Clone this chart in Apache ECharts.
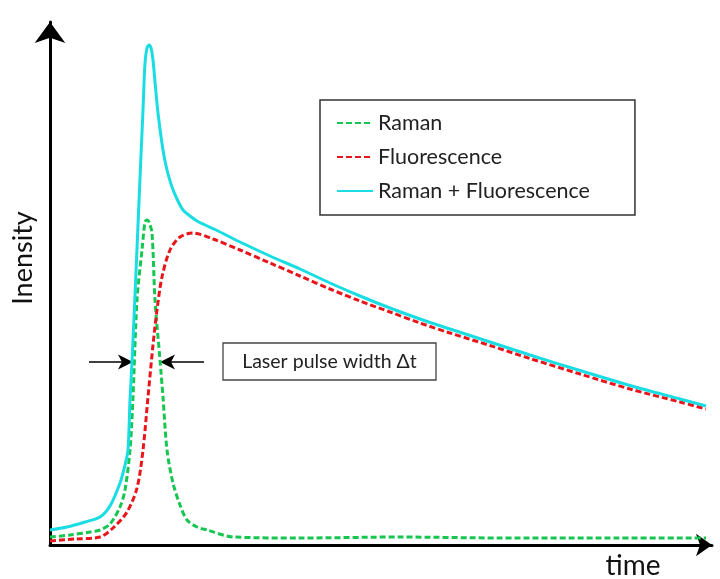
<!DOCTYPE html>
<html>
<head>
<meta charset="utf-8">
<script src="https://cdn.jsdelivr.net/npm/echarts@6/dist/echarts.min.js"></script>
<style>html,body{margin:0;padding:0;background:#fff;}#chart{width:720px;height:579px;}</style>
</head>
<body>
<div id="chart"></div>
<script>
// time (arbitrary units) and intensity (arbitrary units)
var ramanTime = [0,20,40,50,60,70,75,80,83,87,92,95,97,99,102,105,110,113,117,123,130,137,147,157,183,250,350,450,550,656];
var ramanIntensity = [8,10,13,15,21,38,55,95,148,245,295,323,325,323,312,245,185,148,95,62,40,25,18,15,8,7,8,7,7,7];

var fluorTime = [0,25,50,63,77,87,93,98,103,107,112,120,130,143,163,190,220,250,280,310,340,370,400,440,480,530,580,630,656];
var fluorIntensity = [4,6,8,17,33,57,95,148,200,235,268,295,308,312,306,295,282,269,256,244,233,222,212,199.5,186.5,171,156,143,136];

var sumTime = [0,17,35,50,60,70,75,78,80,82,85,88,91,93,95,97,99,101,103,105,108,113,117,122,127,133,140,147,155,165,190,220,250,280,310,340,370,400,440,480,530,580,630,656];
var sumIntensity = [15,18,23,28,39,62,80,95,145,183,250,320,390,435,482,497,500,497,485,463,432,395,375,358,346,335,329,324,320,315.5,303,289,276,262,249,237,226,216,203,190,174.5,159.5,146,139];

var seriesNames = ['Raman', 'Fluorescence', 'Raman + Fluorescence'];
var xLabel = 'time';
var yLabel = 'Inensity';
var noteText = 'Laser pulse width \u0394t';

function pairs(xs, ys){ return xs.map(function(x,i){ return [x, ys[i]]; }); }

var FONT = 'Lato, "Open Sans", sans-serif';
var chart = echarts.init(document.getElementById('chart'), null, {renderer:'canvas'});

function arrowHead(tipX, y, dir){
  var L = 15, H = 7.5, notch = 4;
  return [[tipX, y], [tipX - dir*L, y - H], [tipX - dir*(L - notch), y], [tipX - dir*L, y + H]];
}

var option = {
  animation: false,
  backgroundColor: '#fff',
  grid: {left: 50, right: 8, top: 22, bottom: 34, containLabel: false},
  xAxis: {
    type: 'value', min: 0, max: 662,
    axisLine: {show: true, onZero: false, lineStyle: {color: '#000', width: 3}, symbol: ['none', 'arrow'], symbolSize: [17, 16]},
    axisTick: {show: false}, axisLabel: {show: false}, splitLine: {show: false}
  },
  yAxis: {
    type: 'value', min: 0, max: 523,
    axisLine: {show: true, onZero: false, lineStyle: {color: '#000', width: 3}, symbol: ['none', 'arrow'], symbolSize: [23, 21]},
    axisTick: {show: false}, axisLabel: {show: false}, splitLine: {show: false}
  },
  legend: {
    orient: 'vertical', left: 320, top: 100,
    padding: [12, 45, 13, 16],
    itemWidth: 36, itemHeight: 14, itemGap: 12,
    borderColor: '#333', borderWidth: 1.5,
    backgroundColor: '#fff',
    itemStyle: {opacity: 0},
    textStyle: {fontFamily: FONT, fontSize: 21.5, color: '#222', lineHeight: 22},
    data: seriesNames
  },
  series: [
    {name: seriesNames[0], type: 'line', data: pairs(ramanTime, ramanIntensity), symbol: 'none', smooth: 0.3,
     color: '#16c650', lineStyle: {color: '#16c650', width: 3, type: [6, 3]}},
    {name: seriesNames[1], type: 'line', data: pairs(fluorTime, fluorIntensity), symbol: 'none', smooth: 0.3,
     color: '#e8161b', lineStyle: {color: '#e8161b', width: 3, type: [6, 3]}},
    {name: seriesNames[2], type: 'line', data: pairs(sumTime, sumIntensity), symbol: 'none', smooth: 0.3,
     color: '#19dde3', lineStyle: {color: '#19dde3', width: 3}}
  ],
  graphic: [
    {type: 'text', x: 23, y: 258, rotation: Math.PI/2,
     style: {text: yLabel, fontFamily: FONT, fontSize: 27, fill: '#111', align: 'center', verticalAlign: 'middle'}},
    {type: 'text', x: 633, y: 566,
     style: {text: xLabel, fontFamily: FONT, fontSize: 28, fill: '#111', align: 'center', verticalAlign: 'middle'}},
    {type: 'rect', shape: {x: 223, y: 343, width: 213, height: 37},
     style: {fill: '#fff', stroke: '#444', lineWidth: 1.3}},
    {type: 'text', x: 329.5, y: 362,
     style: {text: noteText, fontFamily: FONT, fontSize: 19.5, fill: '#222', align: 'center', verticalAlign: 'middle'}},
    {type: 'line', shape: {x1: 89, y1: 362, x2: 124, y2: 362}, style: {stroke: '#000', lineWidth: 1.5}},
    {type: 'polygon', shape: {points: arrowHead(133, 362, 1)}, style: {fill: '#000'}},
    {type: 'line', shape: {x1: 169, y1: 362, x2: 204, y2: 362}, style: {stroke: '#000', lineWidth: 1.5}},
    {type: 'polygon', shape: {points: arrowHead(160, 362, -1)}, style: {fill: '#000'}}
  ]
};
chart.setOption(option);
</script>
</body>
</html>
